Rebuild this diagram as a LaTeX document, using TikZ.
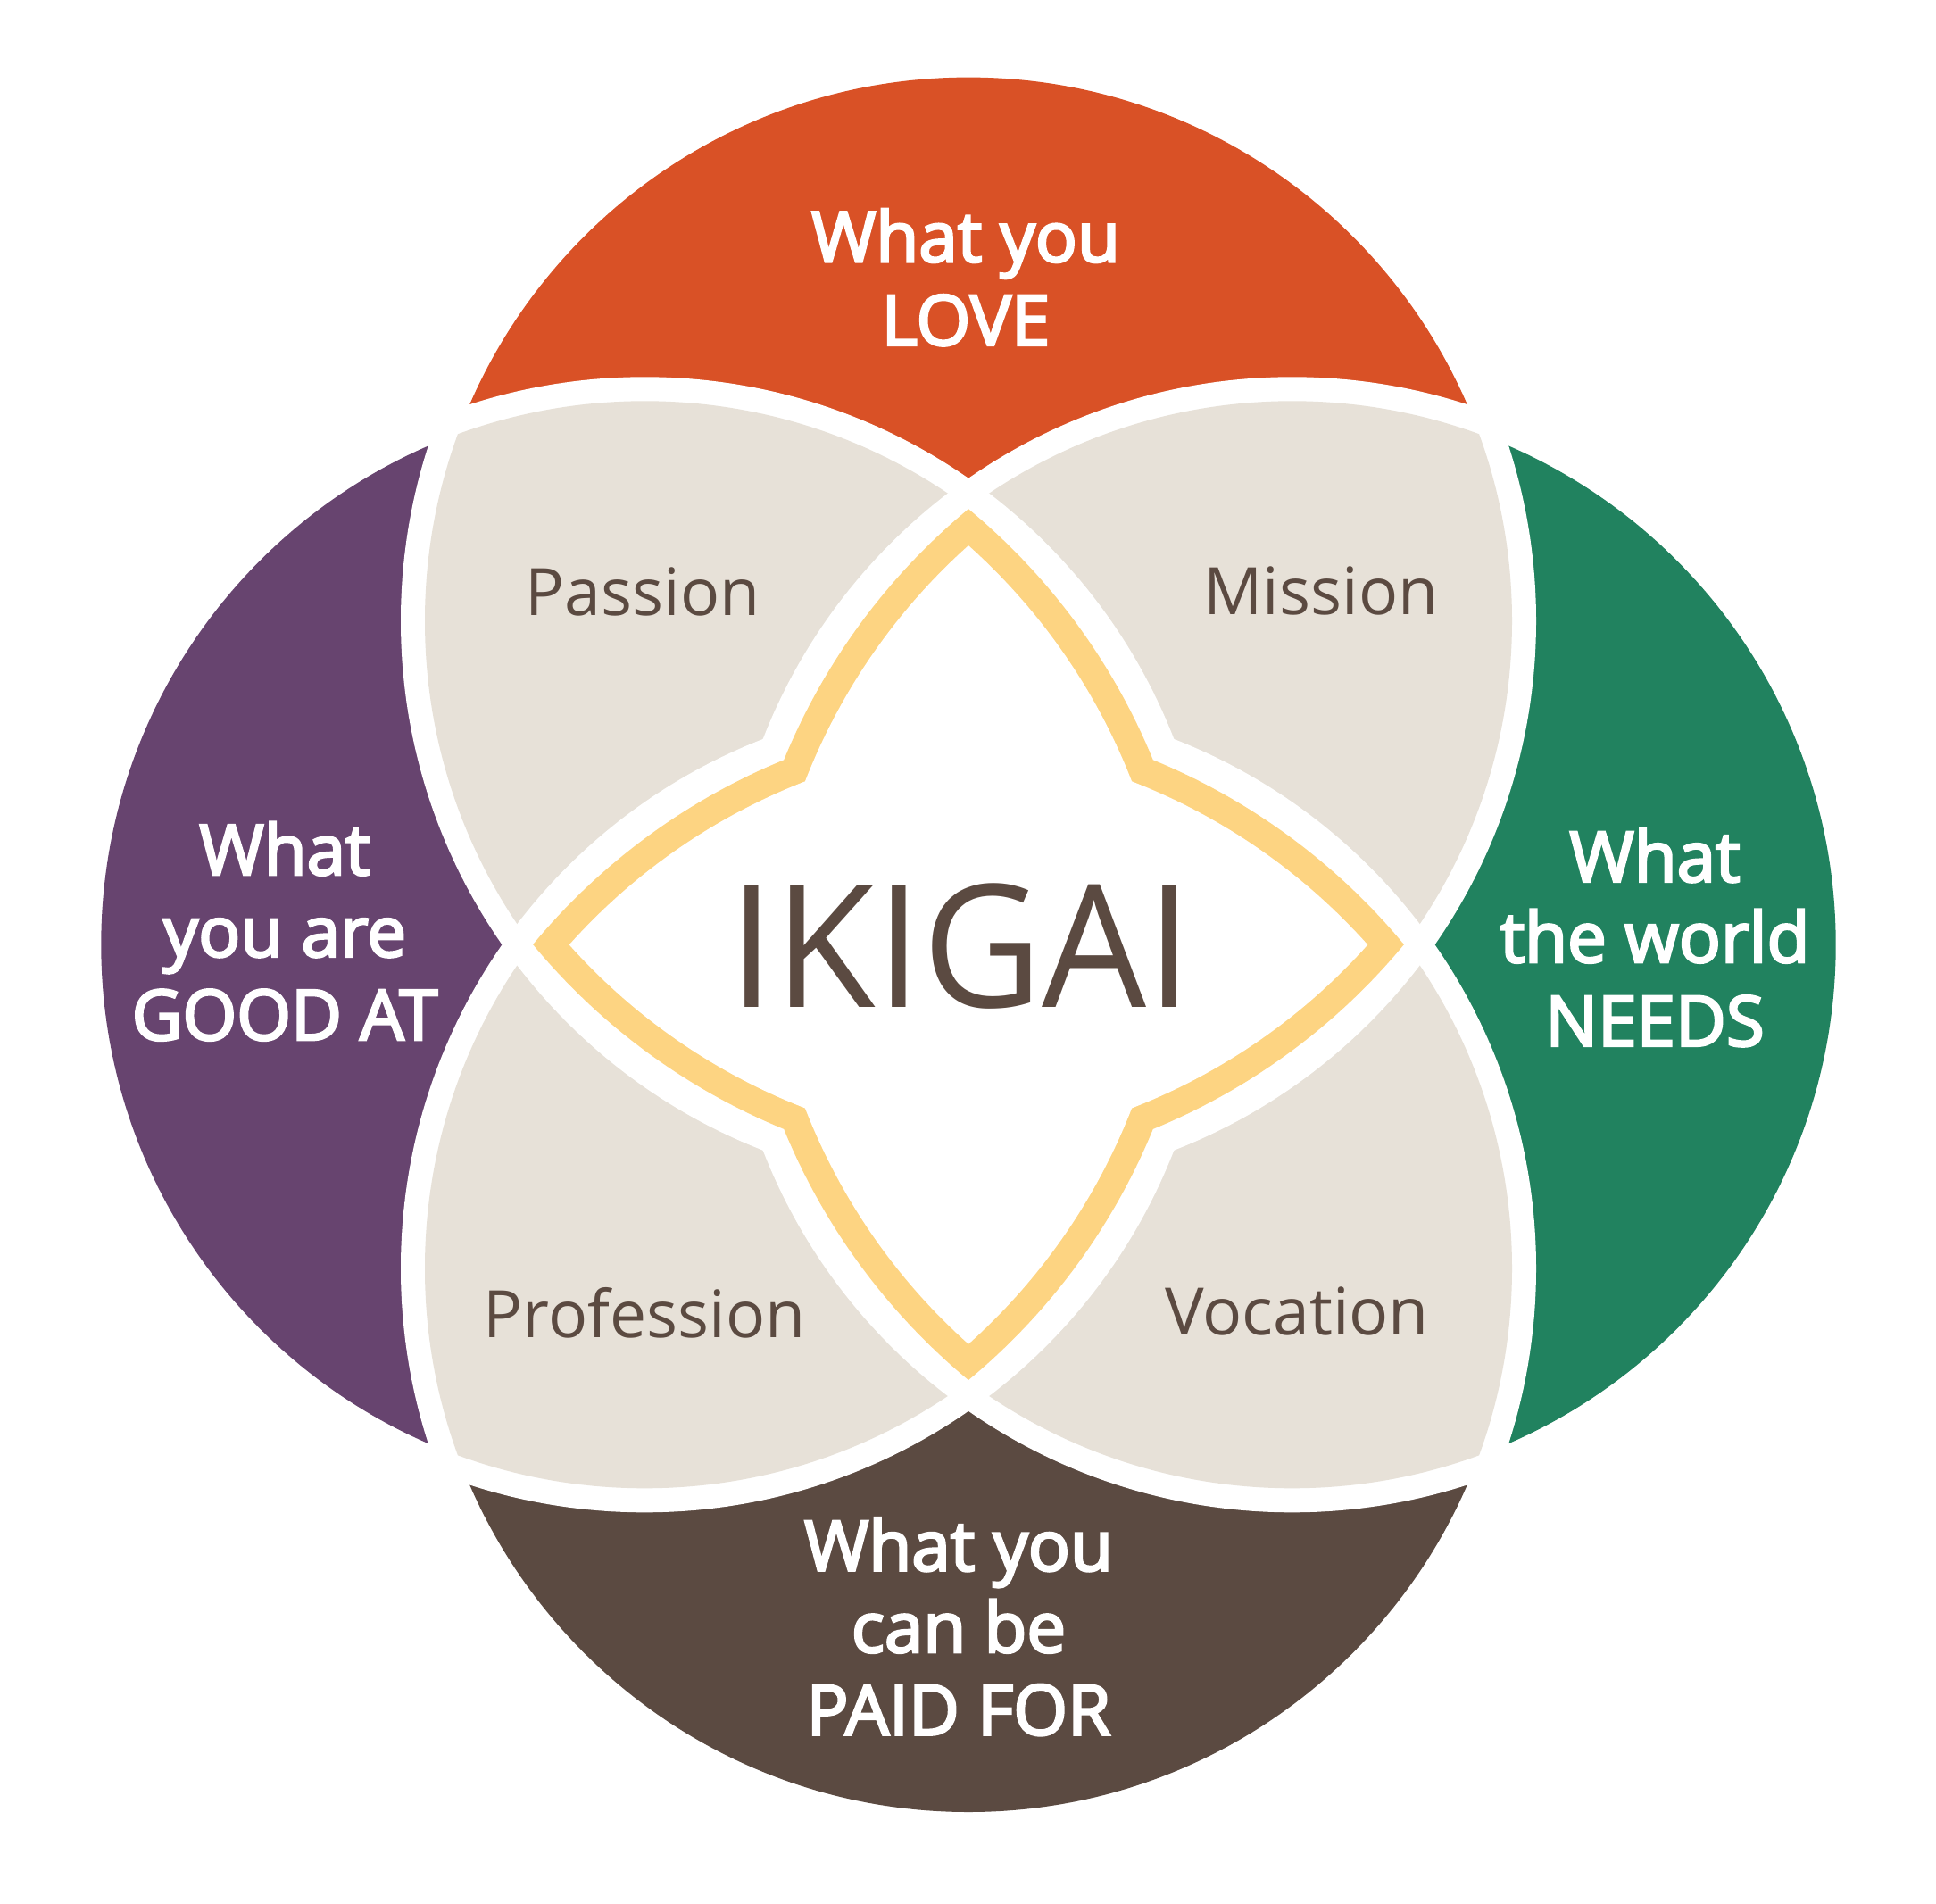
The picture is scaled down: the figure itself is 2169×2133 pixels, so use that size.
\documentclass[tikz,border=0pt]{standalone}
\usepackage{fontspec}
\setmainfont{Open Sans}
\newfontfamily\semib{Open Sans}[FakeBold=3.5]
\definecolor{cOrange}{HTML}{D95126}
\definecolor{cPurple}{HTML}{67446F}
\definecolor{cGreen}{HTML}{21825F}
\definecolor{cBrown}{HTML}{5B4A41}
\definecolor{cBeige}{HTML}{E7E1D8}
\definecolor{cYellow}{HTML}{FDD482}
\tikzset{
  whitetext/.style={anchor=base, inner sep=0pt, text=white, font=\semib\fontsize{22.2}{26}\selectfont},
  regiontext/.style={anchor=base, inner sep=0pt, text=cBrown, font=\fontsize{20.85}{25}\selectfont},
  titletext/.style={anchor=base, inner sep=0pt, text=cBrown, xscale=0.965, font=\fontsize{54.5}{60}\selectfont}
}
\begin{document}
\begin{tikzpicture}[x=0.01cm,y=-0.01cm]
\def\Rad{609}
\def\Rgap{636}
\fill[white] (0,0) rectangle (2169,2133);
\useasboundingbox (0,0) rectangle (2169,2133);
\coordinate (cT) at (1085,695.6);
\coordinate (cB) at (1085,1421);
\coordinate (cL) at (722.3,1058.3);
\coordinate (cR) at (1447.7,1058.3);
% coloured circles
\fill[cOrange] (cT) circle[radius=\Rad];
\fill[cBrown] (cB) circle[radius=\Rad];
\fill[cPurple] (cL) circle[radius=\Rad];
\fill[cGreen] (cR) circle[radius=\Rad];
% white gaps around pairwise overlaps
\foreach \a/\b in {cT/cL,cT/cR,cB/cL,cB/cR}{
  \begin{scope}
    \clip (\a) circle[radius=\Rgap];
    \fill[white] (\b) circle[radius=\Rgap];
  \end{scope}
}
% beige lenses
\foreach \a/\b in {cT/cL,cT/cR,cB/cL,cB/cR}{
  \begin{scope}
    \clip (\a) circle[radius=\Rad];
    \fill[cBeige] (\b) circle[radius=\Rad];
  \end{scope}
}
% white gap around the centre star
\foreach \a/\b/\c in {cT/cL/cR,cT/cL/cB,cT/cR/cB,cL/cR/cB}{
  \begin{scope}
    \clip (\a) circle[radius=\Rgap];
    \clip (\b) circle[radius=\Rgap];
    \fill[white] (\c) circle[radius=\Rgap];
  \end{scope}
}
% yellow star (outer edge)
\coordinate (startop) at (1085,570.23);
\fill[cYellow] (startop)
  arc[start angle=-129.64, end angle=-157.69, radius=720]
  arc[start angle=-112.31, end angle=-140.36, radius=720]
  arc[start angle=-219.64, end angle=-247.69, radius=720]
  arc[start angle=-202.31, end angle=-230.36, radius=720]
  arc[start angle=-309.64, end angle=-337.69, radius=720]
  arc[start angle=-292.31, end angle=-320.36, radius=720]
  arc[start angle=-399.64, end angle=-427.69, radius=720]
  arc[start angle=-382.31, end angle=-410.36, radius=720]
  -- cycle;
% white inner star
\coordinate (innertop) at (1085,611.12);
\fill[white] (innertop)
  arc[start angle=-131.80, end angle=-158.78, radius=689]
  arc[start angle=-111.22, end angle=-138.20, radius=689]
  arc[start angle=-221.80, end angle=-248.78, radius=689]
  arc[start angle=-201.22, end angle=-228.20, radius=689]
  arc[start angle=-311.80, end angle=-338.78, radius=689]
  arc[start angle=-291.22, end angle=-318.20, radius=689]
  arc[start angle=-401.80, end angle=-428.78, radius=689]
  arc[start angle=-381.22, end angle=-408.20, radius=689]
  -- cycle;
% texts
\node[whitetext] (love1) at (1082,293.3) {What you};
\node[whitetext] (love2) at (1082,386.7) {LOVE};
\node[whitetext] (good1) at (319,980) {What};
\node[whitetext] (good2) at (319,1071.7) {you are};
\node[whitetext] (good3) at (319,1165) {GOOD AT};
\node[whitetext] (need1) at (1854,987.7) {What};
\node[whitetext] (need2) at (1854,1078) {the world};
\node[whitetext] (need3) at (1854,1171.7) {NEEDS};
\node[whitetext] (paid1) at (1074,1759.6) {What you};
\node[whitetext] (paid2) at (1074,1851) {can be};
\node[whitetext] (paid3) at (1074,1943.5) {PAID FOR};
\node[regiontext] (passion) at (720,689) {Passion};
\node[regiontext] (mission) at (1480,688) {Mission};
\node[regiontext] (profession) at (722,1498) {Profession};
\node[regiontext] (vocation) at (1453,1495.5) {Vocation};
\node[titletext] (ikigai) at (1076.3,1128.3) {IKIGAI};
\end{tikzpicture}
\end{document}
